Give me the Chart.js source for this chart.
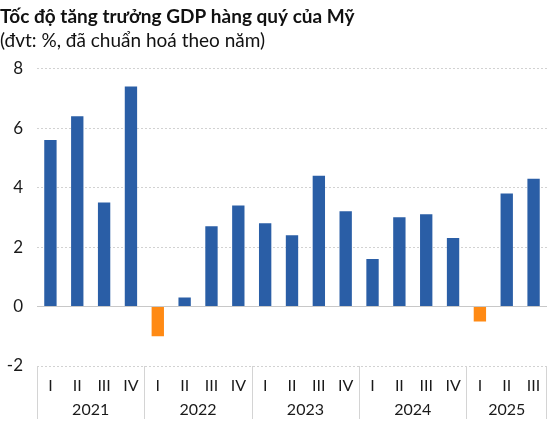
<!DOCTYPE html>
<html>
<head>
<meta charset="utf-8">
<script src="https://cdn.jsdelivr.net/npm/chart.js@4.4.1/dist/chart.umd.min.js"></script>
<style>
  html, body { margin: 0; padding: 0; background: #fff; }
  #wrap { width: 551px; height: 428px; position: relative; }
</style>
</head>
<body>
<div id="wrap"><canvas id="gdpChart"></canvas></div>
<script>
// số liệu
const quarterLabels = ["I", "II", "III", "IV", "I", "II", "III", "IV", "I", "II", "III", "IV", "I", "II", "III", "IV", "I", "II", "III"];
const yearLabels = ["2021", "2022", "2023", "2024", "2025"];
const quartersPerYear = [4, 4, 4, 4, 3];
const gdpGrowth = [5.6, 6.4, 3.5, 7.4, -1.0, 0.3, 2.7, 3.4, 2.8, 2.4, 4.4, 3.2, 1.6, 3.0, 3.1, 2.3, -0.5, 3.8, 4.3];
const yTicks = [-2, 0, 2, 4, 6, 8];

const BLUE = "#2a5ea6";
const ORANGE = "#ff8a14";
const FONT = "Lato";

// nhãn năm + đường phân cách dưới trục x
const yearGroupPlugin = {
    id: "yearGroups",
    afterDraw: function(chart) {
        const ctx = chart.ctx;
        const x = chart.scales.x;
        const area = chart.chartArea;
        const half = (x.getPixelForValue(1) - x.getPixelForValue(0)) / 2;
        ctx.save();
        ctx.strokeStyle = "#d4d4d4";
        ctx.lineWidth = 1;
        ctx.fillStyle = "#1a1a1a";
        ctx.font = "16px " + FONT;
        ctx.textAlign = "center";
        ctx.textBaseline = "middle";
        let start = 0;
        for (let i = 0; i < yearLabels.length; i++) {
            const end = start + quartersPerYear[i] - 1;
            const left = x.getPixelForValue(start) - half;
            const right = x.getPixelForValue(end) + half;
            ctx.beginPath();
            ctx.moveTo(Math.round(left) + 0.5, area.bottom);
            ctx.lineTo(Math.round(left) + 0.5, area.bottom + 53);
            ctx.stroke();
            if (i === yearLabels.length - 1) {
                ctx.beginPath();
                ctx.moveTo(Math.round(right) - 0.5, area.bottom);
                ctx.lineTo(Math.round(right) - 0.5, area.bottom + 53);
                ctx.stroke();
            }
            ctx.fillText(yearLabels[i], (left + right) / 2, area.bottom + 44);
            start = end + 1;
        }
        ctx.restore();
    }
};

new Chart(document.getElementById("gdpChart"), {
    type: "bar",
    data: {
        labels: quarterLabels,
        datasets: [{
            data: gdpGrowth,
            backgroundColor: gdpGrowth.map(function(v) { return v < 0 ? ORANGE : BLUE; }),
            borderWidth: 0,
            barPercentage: 0.46,
            categoryPercentage: 1
        }]
    },
    options: {
        animation: false,
        responsive: true,
        maintainAspectRatio: false,
        layout: { padding: { left: 0, right: 4, top: 0, bottom: 0 } },
        plugins: {
            legend: { display: false },
            tooltip: { enabled: false },
            title: {
                display: true,
                text: "Tốc độ tăng trưởng GDP hàng quý của Mỹ",
                align: "start",
                color: "#111",
                font: { family: FONT, size: 19, weight: "bold" },
                padding: { top: 5, bottom: 2 }
            },
            subtitle: {
                display: true,
                text: "(đvt: %, đã chuẩn hoá theo năm)",
                align: "start",
                color: "#111",
                font: { family: FONT, size: 19 },
                padding: { top: 0, bottom: 16 }
            }
        },
        scales: {
            x: {
                grid: { display: false },
                border: { display: false },
                ticks: {
                    color: "#1a1a1a",
                    font: { family: FONT, size: 16 },
                    padding: 2,
                    maxRotation: 0,
                    autoSkip: false
                },
                afterFit: function(scale) { scale.height = 62; }
            },
            y: {
                min: -2,
                max: 8,
                afterBuildTicks: function(scale) {
                    scale.ticks = yTicks.map(function(v) { return { value: v }; });
                },
                grid: {
                    drawTicks: false,
                    color: function(c) { return c.tick && c.tick.value === 0 ? "#c8c8c8" : "#d2d2d2"; },
                    lineWidth: 1
                },
                border: {
                    display: false,
                    dash: function(c) { return c.tick && c.tick.value === 0 ? [] : [2, 2]; }
                },
                ticks: {
                    color: "#1a1a1a",
                    font: { family: FONT, size: 17 },
                    padding: 14
                },
                afterFit: function(scale) { scale.width = 37; }
            }
        }
    },
    plugins: [yearGroupPlugin]
});
</script>
</body>
</html>
